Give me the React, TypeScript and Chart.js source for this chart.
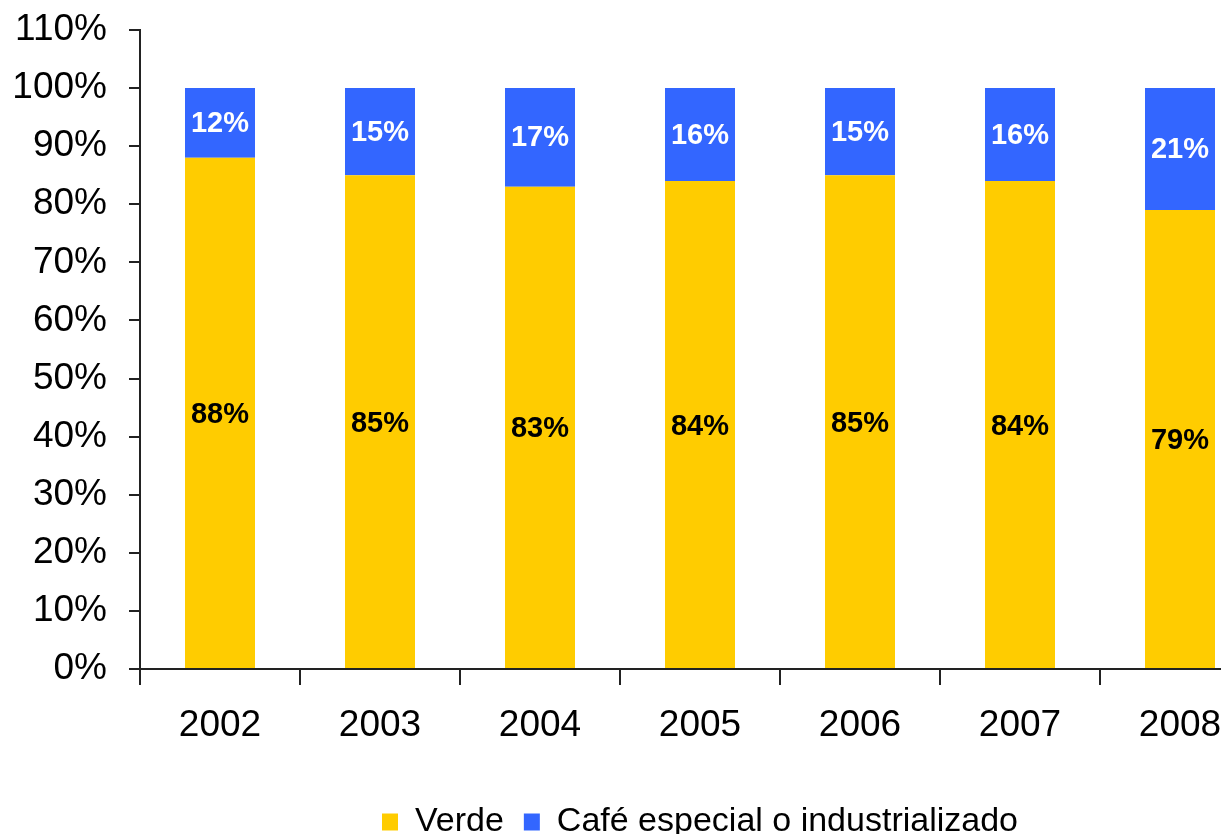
import React, { useEffect, useRef } from "react";
import { Chart, registerables } from "chart.js";

Chart.register(...registerables);

const years = ["2002", "2003", "2004", "2005", "2006", "2007", "2008"];
const verde = [88, 85, 83, 84, 85, 84, 79];
const cafe = [12, 15, 17, 16, 15, 16, 21];
const yTicks = [0, 10, 20, 30, 40, 50, 60, 70, 80, 90, 100, 110];

const FONT = "'Liberation Sans', Arial, sans-serif";
const YELLOW = "#FFCC00";
const BLUE = "#3366FF";
const AXIS = "#222222";

const barLabels = {
  id: "barLabels",
  afterDatasetsDraw(chart: any) {
    const ctx = chart.ctx;
    ctx.save();
    ctx.font = `bold 29px ${FONT}`;
    ctx.textAlign = "center";
    ctx.textBaseline = "middle";
    chart.data.datasets.forEach((ds: any, di: number) => {
      const meta = chart.getDatasetMeta(di);
      meta.data.forEach((bar: any, i: number) => {
        const p = bar.getProps(["x", "y", "base"], true);
        ctx.fillStyle = di === 0 ? "#000000" : "#FFFFFF";
        ctx.fillText(`${ds.data[i]}%`, p.x, (p.y + p.base) / 2 + (di === 0 ? 2 : 1));
      });
    });
    ctx.restore();
  },
};

export default function App() {
  const ref = useRef<HTMLCanvasElement | null>(null);
  useEffect(() => {
    if (!ref.current) return;
    const chart = new Chart(ref.current, {
      type: "bar",
      data: {
        labels: years,
        datasets: [
          {
            label: "Verde",
            data: verde,
            backgroundColor: YELLOW,
            barPercentage: 0.4375,
            categoryPercentage: 1,
          },
          {
            label: "Café especial o industrializado",
            data: cafe,
            backgroundColor: BLUE,
            barPercentage: 0.4375,
            categoryPercentage: 1,
          },
        ],
      },
      options: {
        animation: false,
        responsive: false,
        maintainAspectRatio: false,
        layout: { padding: { top: 30, right: 40, bottom: 6, left: 0 } },
        plugins: {
          tooltip: { enabled: false },
          legend: {
            position: "bottom",
            fullSize: false,
            labels: {
              color: "#000",
              font: { family: FONT, size: 34 },
              boxWidth: 16,
              boxHeight: 17,
              padding: 20,
            },
          },
        },
        scales: {
          x: {
            stacked: true,
            offset: true,
            grid: {
              display: true,
              offset: true,
              drawOnChartArea: false,
              drawTicks: true,
              tickLength: 16,
              color: AXIS,
              lineWidth: 2,
            },
            border: { display: true, color: AXIS, width: 2 },
            ticks: {
              color: "#000",
              font: { family: FONT, size: 37 },
              padding: 19,
              maxRotation: 0,
            },
            afterFit(scale: any) {
              scale.height = 116;
            },
          },
          y: {
            stacked: true,
            min: 0,
            max: 110,
            afterBuildTicks(scale: any) {
              scale.ticks = yTicks.map((v) => ({ value: v }));
            },
            grid: {
              display: true,
              drawOnChartArea: false,
              drawTicks: true,
              tickLength: 11,
              color: AXIS,
              lineWidth: 2,
            },
            border: { display: true, color: AXIS, width: 2 },
            ticks: {
              color: "#000",
              font: { family: FONT, size: 37 },
              padding: 22,
              callback: (v: any) => `${v}%`,
            },
            afterFit(scale: any) {
              scale.width = 140;
              scale.paddingTop = 0;
              scale.paddingBottom = 0;
            },
          },
        },
      },
      plugins: [barLabels],
    } as any);
    return () => chart.destroy();
  }, []);

  return (
    <div
      style={{
        position: "fixed",
        left: 0,
        top: 0,
        width: 1221,
        height: 834,
        overflow: "hidden",
        background: "#fff",
      }}
    >
      <canvas ref={ref} width={1300} height={855} style={{ display: "block" }} />
    </div>
  );
}
